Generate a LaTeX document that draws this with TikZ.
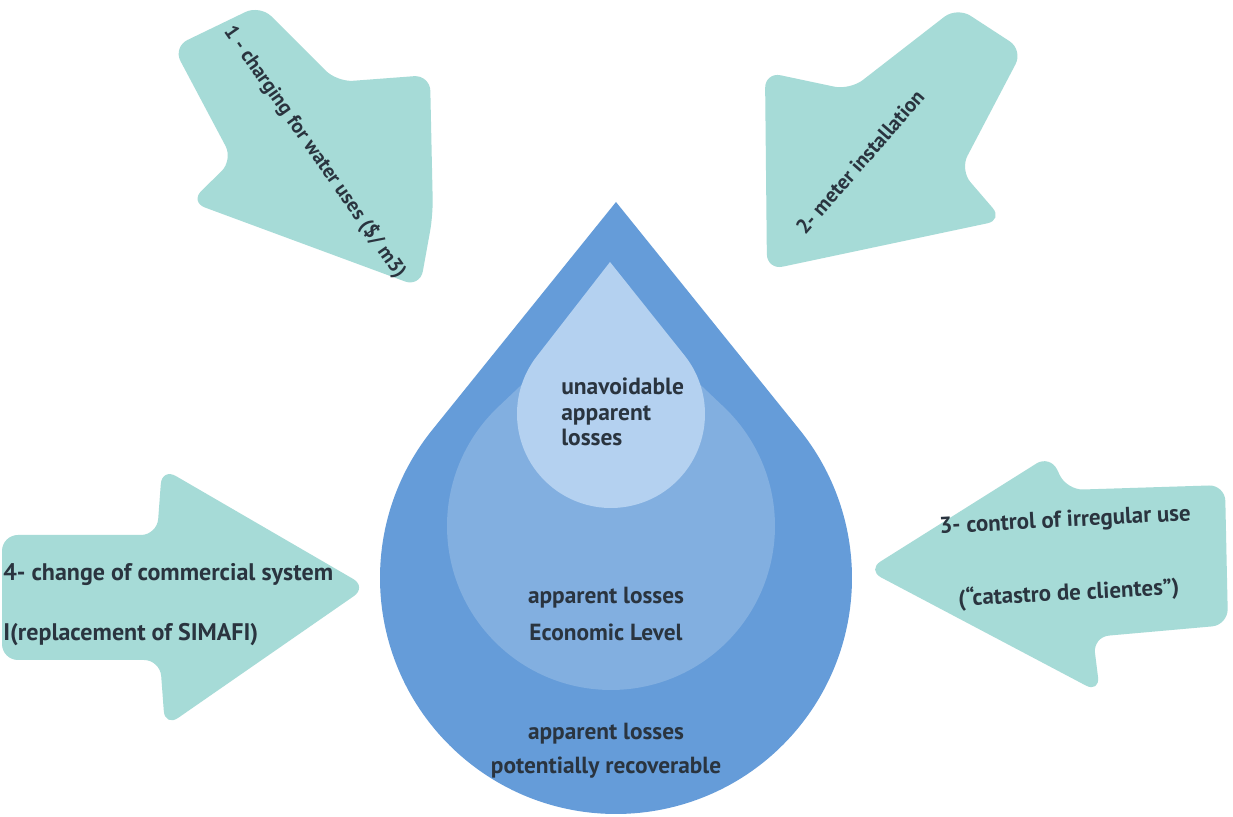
\documentclass[tikz,border=0pt]{standalone}
\usepackage{fontspec}
\setmainfont{PT Sans}
\usepackage{xcolor}
\definecolor{dropouter}{HTML}{659CD9}
\definecolor{dropmid}{HTML}{82AFE0}
\definecolor{dropinner}{HTML}{B4D1F0}
\definecolor{arrowteal}{HTML}{A6DBD7}
\definecolor{textdark}{HTML}{2A343F}
\usepackage{tikz}
\usetikzlibrary{calc}

\tikzset{
  actionarrow/.style={fill=arrowteal, rounded corners=12pt},
  actiontext/.style={text=textdark, inner sep=0pt},
  losstext/.style={text=textdark, inner sep=0pt}
}

\begin{document}
\begin{tikzpicture}[x=0.75pt, y=0.75pt]
        \fill[white] (0,0) rectangle (1233,817);
        \useasboundingbox (0,0) rectangle (1233,817);
        % Outer drop
        \fill[dropouter] (616,615) -- ($(616,239)+(141.1:236)$) arc[start angle=141.1, end angle=398.9, radius=236] -- cycle;
        % Middle drop, its tip hidden under the inner one
        \fill[dropmid] (611,517) -- ($(611,291)+(133.5:164)$) arc[start angle=133.5, end angle=406.5, radius=164] -- cycle;
        % Inner drop
        \fill[dropinner] (610,555) -- ($(611,403)+(141.8:94)$) arc[start angle=141.8, end angle=398.2, radius=94] -- cycle;
        % Labels inside the drop
        \node[losstext, anchor=west, align=left, font=\bfseries\fontsize{17.6}{19}\selectfont] (unavoid) at (561,405) {unavoidable\\apparent\\losses};
        \node[losstext, align=center, font=\bfseries\fontsize{17.5}{27.5}\selectfont] (economic) at (606,203) {apparent losses\\Economic Level};
        \node[losstext, align=center, font=\bfseries\fontsize{17.5}{25.5}\selectfont] (recover) at (606,66) {apparent losses\\potentially recoverable};
        % Action arrows
        \fill[actionarrow] (260,812) -- (337,735) -- (430,742) -- (433,602) -- (420,530) -- (190,615) -- (233,657) -- (173,770) -- cycle;
        \fill[actionarrow] (957,810) -- (1023,767) -- (960,647) -- (1003,597) -- (767,547) -- (765,745) -- (850,727) -- cycle;
        \fill[actionarrow] (867,247) -- (1050,362) -- (1067,327) -- (1225,332) -- (1228,192) -- (1093,180) -- (1100,124) -- cycle;
        \fill[actionarrow] (2,282) -- (157,282) -- (162,349) -- (367,230) -- (165,90) -- (160,157) -- (2,157) -- cycle;
        % Arrow labels
        \node[actiontext, rotate=-55, font=\bfseries\fontsize{15.2}{17}\selectfont] (charging) at (315,665) {1 - charging for water uses (\$/ m3)};
        \node[actiontext, rotate=49, font=\bfseries\fontsize{15.6}{17}\selectfont] (meter) at (860,655) {2- meter installation};
        \node[actiontext, rotate=3, align=center, font=\bfseries\fontsize{17.2}{55}\selectfont] (irregular) at (1067,259) {3- control of irregular use\\(“catastro de clientes”)};
        \node[actiontext, anchor=west, align=left, font=\bfseries\fontsize{18}{45}\selectfont] (commercial) at (3,212) {4- change of commercial system\\I(replacement of SIMAFI)};
\end{tikzpicture}
\end{document}
